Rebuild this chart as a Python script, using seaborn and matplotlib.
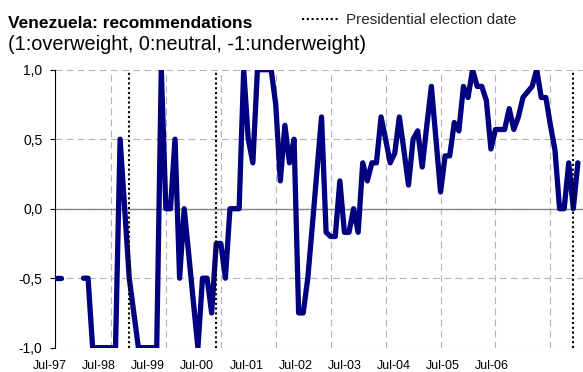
import numpy as np
import pandas as pd
import matplotlib
matplotlib.use("Agg")
import matplotlib.pyplot as plt
import matplotlib.transforms as mtransforms
import seaborn as sns

# Monthly recommendation score, one value per month starting Jul-97
# (1 = overweight, 0 = neutral, -1 = underweight; NaN = no call that month)
score = [
    -0.5, -0.5, np.nan, np.nan, np.nan, np.nan, -0.5, -0.5, -1.0, -1.0,
    -1.0, -1.0, -1.0, -1.0, 0.5, 0.0, -0.5, -0.75, -1.0, -1.0,
    -1.0, -1.0, -1.0, 1.0, 0.0, 0.0, 0.5, -0.5, 0.0, -0.33,
    -0.67, -1.0, -0.5, -0.5, -0.75, -0.25, -0.25, -0.5, 0.0, 0.0,
    0.0, 1.0, 0.5, 0.33, 1.0, 1.0, 1.0, 1.0, 0.75, 0.2,
    0.6, 0.33, 0.5, -0.75, -0.75, -0.5, -0.12, 0.27, 0.66, -0.17,
    -0.2, -0.2, 0.2, -0.17, -0.17, 0.0, -0.17, 0.33, 0.2, 0.33,
    0.33, 0.66, 0.5, 0.33, 0.4, 0.66, 0.42, 0.17, 0.5, 0.56,
    0.3, 0.6, 0.88, 0.5, 0.12, 0.38, 0.38, 0.62, 0.56, 0.88,
    0.8, 1.0, 0.88, 0.88, 0.78, 0.43, 0.57, 0.57, 0.57, 0.72,
    0.57, 0.66, 0.8, 0.84, 0.88, 1.0, 0.8, 0.8, 0.6, 0.42,
    0.0, 0.0, 0.33, 0.0, 0.33,
]
month = np.arange(len(score))

# Presidential elections, in months after Jul-97
election_month = [16, 35, 113]
election_label = "Presidential election date"

# Category labels along the time axis
x_labels = ["Jul-97", "Jul-98", "Jul-99", "Jul-00", "Jul-01",
            "Jul-02", "Jul-03", "Jul-04", "Jul-05", "Jul-06"]
y_ticks = [-1.0, -0.5, 0.0, 0.5, 1.0]

title = "Venezuela: recommendations"
subtitle = "(1:overweight, 0:neutral, -1:underweight)"

# Split the series into unbroken runs so gaps stay gaps
df = pd.DataFrame({"month": month, "score": score})
df["run"] = df["score"].isna().cumsum()
df = df.dropna()

sns.set_theme(style="white")
plt.rcParams["font.family"] = ["Liberation Sans", "DejaVu Sans"]

W, H = 583, 372
fig = plt.figure(figsize=(W / 100, H / 100), dpi=100)
left, right, top, bottom = 55, 583, 69.7, 347.7
ax = fig.add_axes([left / W, 1 - bottom / H, (right - left) / W, (bottom - top) / H])

navy = "#000080"
grid_kw = dict(color="#b4b4b4", linewidth=0.8, linestyle=(0, (6, 4)))

# Gridlines: horizontal at every y tick, vertical every 12 months
ax.set_yticks(y_ticks)
ax.set_yticklabels([f"{v:.1f}".replace(".", ",") for v in y_ticks])
ax.yaxis.grid(True, **grid_kw)
ax.set_xticks(np.arange(12, len(score), 12))
ax.xaxis.grid(True, **grid_kw)
ax.set_axisbelow(True)
ax.axhline(0, color="#888888", linewidth=1.0, zorder=1)

sns.lineplot(data=df, x="month", y="score", units="run", estimator=None,
             color=navy, linewidth=3.8, ax=ax, zorder=3,
             solid_capstyle="round", solid_joinstyle="round")

for i, m in enumerate(election_month):
    ax.axvline(m, color="black", linewidth=1.5, linestyle=(0, (1, 1.3)),
               zorder=4, label=election_label if i == 0 else None)

ax.set_xlim((left - 56) / 4.578, (right - 56) / 4.578)
ax.set_ylim(-1, 1)
ax.set_xlabel("")
ax.set_ylabel("")

ax.tick_params(axis="x", which="both", length=0, labelbottom=False)
ax.tick_params(axis="y", left=True, length=3.6, width=0.8, pad=5.5,
               labelsize=10, colors="black", direction="out")

for s in ("top", "right", "bottom"):
    ax.spines[s].set_visible(False)
ax.spines["left"].set_color("black")
ax.spines["left"].set_linewidth(0.8)

# Time labels under the plot area
blend = mtransforms.blended_transform_factory(ax.transData, ax.transAxes)
for lab, pos in zip(x_labels, np.linspace(-1.3, 95.2, len(x_labels))):
    ax.text(pos, -0.0777, lab, transform=blend, ha="center", va="baseline",
            fontsize=9, color="black", clip_on=False)

fig.text(8 / W, 1 - 28.3 / H, title, fontsize=12.5, fontweight="bold",
         ha="left", va="baseline", color="black")
fig.text(8 / W, 1 - 50 / H, subtitle, fontsize=14.3,
         ha="left", va="baseline", color="black")

handles, labels = ax.get_legend_handles_labels()
fig.legend(handles, labels, loc="center left",
           bbox_to_anchor=(302 / W, 1 - 20 / H), frameon=False,
           handlelength=2.5, handletextpad=0.35, borderpad=0,
           borderaxespad=0, fontsize=11)
if ax.get_legend() is not None:
    ax.get_legend().remove()

fig.savefig("out.png", dpi=100)
